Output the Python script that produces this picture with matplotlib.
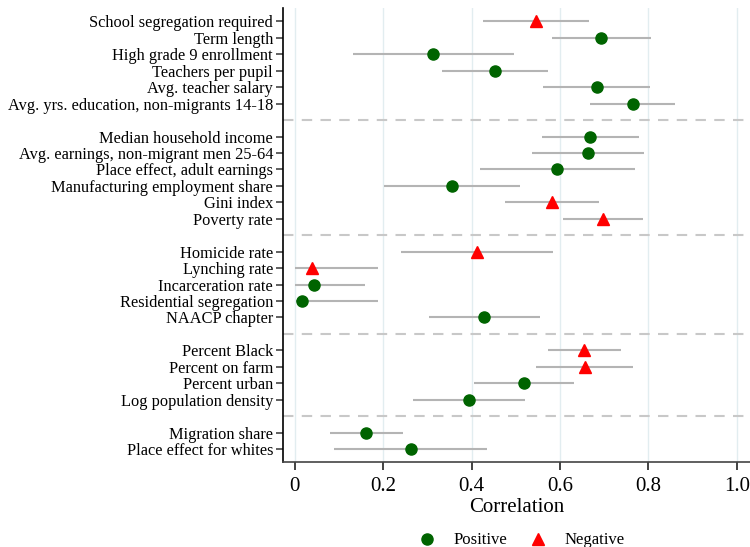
import numpy as np
from matplotlib import pyplot as plt

# rows listed top to bottom, groups split by dashed lines
groups = [
    ["School segregation required", "Term length", "High grade 9 enrollment",
     "Teachers per pupil", "Avg. teacher salary", "Avg. yrs. education, non-migrants 14-18"],
    ["Median household income", "Avg. earnings, non-migrant men 25-64",
     "Place effect, adult earnings", "Manufacturing employment share", "Gini index", "Poverty rate"],
    ["Homicide rate", "Lynching rate", "Incarceration rate", "Residential segregation", "NAACP chapter"],
    ["Percent Black", "Percent on farm", "Percent urban", "Log population density"],
    ["Migration share", "Place effect for whites"],
]
est = [0.545, 0.692, 0.314, 0.454, 0.683, 0.765,
       0.668, 0.664, 0.594, 0.356, 0.582, 0.698,
       0.413, 0.040, 0.043, 0.017, 0.429,
       0.655, 0.657, 0.518, 0.394,
       0.162, 0.263]
lo = [0.426, 0.582, 0.133, 0.334, 0.561, 0.667,
      0.560, 0.537, 0.419, 0.202, 0.476, 0.606,
      0.240, 0.000, 0.000, 0.002, 0.303,
      0.573, 0.547, 0.405, 0.268,
      0.080, 0.090]
hi = [0.666, 0.805, 0.497, 0.572, 0.804, 0.861,
      0.779, 0.790, 0.770, 0.510, 0.688, 0.789,
      0.584, 0.189, 0.158, 0.188, 0.556,
      0.738, 0.765, 0.631, 0.522,
      0.245, 0.436]
# 1 = positive, 0 = negative
positive = [0, 1, 1, 1, 1, 1,
            1, 1, 1, 1, 0, 0,
            0, 0, 1, 1, 1,
            0, 0, 1, 1,
            1, 1]

labels = []
ypos = []
seps = []
y = 0
for g in groups:
    for name in g:
        labels.append(name)
        ypos.append(y)
        y += 1
    seps.append(y)
    y += 1
seps = seps[:-1]
ypos = np.array(ypos)
est = np.array(est)
lo = np.array(lo)
hi = np.array(hi)
positive = np.array(positive, dtype=bool)

plt.rcParams['font.family'] = ['Liberation Serif', 'DejaVu Serif']

fig = plt.figure(figsize=(7.5, 5.47), dpi=100)
ax = fig.add_axes([0.377, 0.155, 0.623, 0.83])

for xv in np.arange(0, 1.01, 0.2):
    ax.axvline(xv, color='#e2edf0', lw=1, zorder=0)
for s in seps:
    ax.axhline(s, color='#c8c8c8', lw=1.5, ls=(0, (5, 4)), zorder=1)

ax.hlines(ypos, lo, hi, color='#b4b4b4', lw=1.5, zorder=2)
ax.plot(est[positive], ypos[positive], 'o', color='#006400', ms=8, ls='none',
        zorder=3, label='Positive')
ax.plot(est[~positive], ypos[~positive], '^', color='#ff0000', ms=9, ls='none',
        zorder=3, label='Negative')

ax.set_yticks(ypos)
ax.set_yticklabels(labels, fontsize=11.8)
ax.set_ylim(ypos[-1] + 0.8, -0.8)
ax.set_xlim(-0.027, 1.03)
ax.set_xticks(np.arange(0, 1.01, 0.2))
ax.set_xticklabels(['0', '0.2', '0.4', '0.6', '0.8', '1.0'], fontsize=15)
ax.set_xlabel('Correlation', fontsize=15, labelpad=1)

for sp in ['top', 'right']:
    ax.spines[sp].set_visible(False)
ax.spines['left'].set_linewidth(1.2)
ax.spines['bottom'].set_linewidth(1.2)
ax.spines['bottom'].set_color('#444444')
ax.tick_params(axis='y', length=5, width=1.2, color='#444444', pad=2)
ax.tick_params(axis='x', length=6, width=1.2, color='#222222', pad=5)

fig.legend(loc='center', bbox_to_anchor=(0.69, 0.012), ncol=2, frameon=False,
           fontsize=12, handletextpad=0.6, columnspacing=0.8)

fig.savefig('out.png', dpi=100)
